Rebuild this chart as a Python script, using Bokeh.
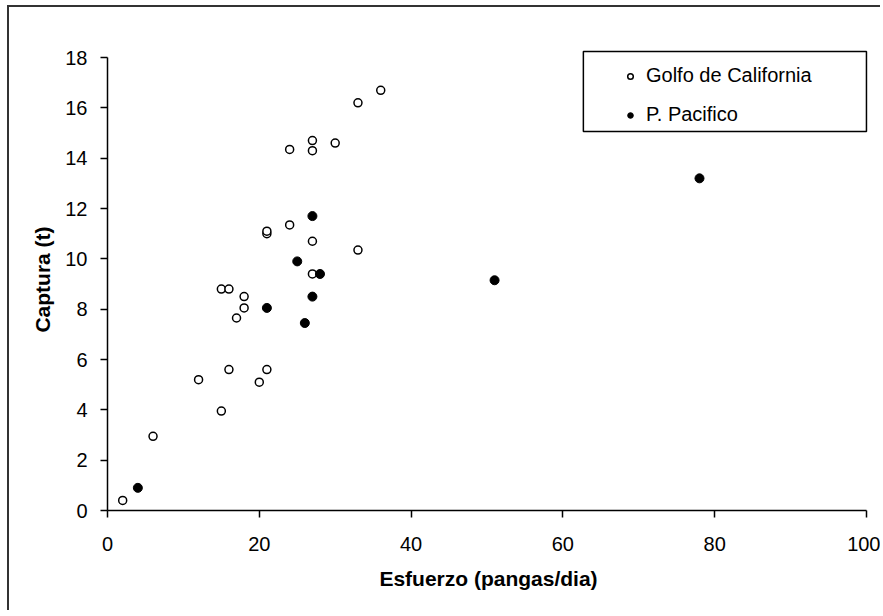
from bokeh.plotting import figure
from bokeh.models import Range1d, Legend, LegendItem, FixedTicker, BoxAnnotation
from bokeh.embed import file_html
from bokeh.resources import INLINE

# Golfo de California (open circles)
golfo_x = [36, 33, 27, 27, 24, 30, 24, 21, 21, 27, 33, 27, 15, 16, 18, 18, 17, 16, 21, 12, 20, 15, 6, 2]
golfo_y = [16.7, 16.2, 14.7, 14.3, 14.35, 14.6, 11.35, 11.0, 11.1, 10.7, 10.35, 9.4,
           8.8, 8.8, 8.5, 8.05, 7.65, 5.6, 5.6, 5.2, 5.1, 3.95, 2.95, 0.4]

# P. Pacifico (filled circles)
pacif_x = [27, 25, 28, 27, 21, 26, 4, 51, 78]
pacif_y = [11.7, 9.9, 9.4, 8.5, 8.05, 7.45, 0.9, 9.15, 13.2]

x_ticks = [0, 20, 40, 60, 80, 100]
y_ticks = [0, 2, 4, 6, 8, 10, 12, 14, 16, 18]

FONT = "Liberation Sans"

# ranges run a bit past the last tick so the legend frame is not clipped
p = figure(width=873, height=605, output_backend="svg", toolbar_location=None,
           x_range=Range1d(0, 100.4), y_range=Range1d(0, 18.36),
           min_border_left=98, min_border_right=13, min_border_top=41, min_border_bottom=102)
p.styles = {"margin-left": "7px", "margin-top": "5px",
            "border-left": "2px solid #333", "border-top": "2px solid #333"}
p.outline_line_color = None
p.grid.grid_line_color = None
p.background_fill_color = "white"
p.border_fill_color = "white"

p.xaxis.ticker = FixedTicker(ticks=x_ticks)
p.yaxis.ticker = FixedTicker(ticks=y_ticks)
p.xaxis.bounds = (0, 100)
p.yaxis.bounds = (0, 18)
p.xaxis.axis_label = "Esfuerzo (pangas/dia)"
p.yaxis.axis_label = "Captura (t)"
for ax in (p.xaxis, p.yaxis):
    ax.axis_line_color = "black"
    ax.axis_line_width = 1.5
    ax.major_tick_line_color = "black"
    ax.major_tick_line_width = 1.5
    ax.major_tick_in = 0
    ax.major_tick_out = 7
    ax.minor_tick_line_color = None
    ax.major_label_text_font = FONT
    ax.major_label_text_font_size = "20px"
    ax.major_label_text_color = "black"
    ax.axis_label_text_font = FONT
    ax.axis_label_text_font_size = "21px"
    ax.axis_label_text_font_style = "bold"
    ax.axis_label_text_color = "black"
p.xaxis.major_label_standoff = 19
p.yaxis.major_label_standoff = 13
p.xaxis.axis_label_standoff = 13
p.yaxis.axis_label_standoff = 8

r_golfo = p.scatter(golfo_x, golfo_y, marker="circle", size=8, fill_color="white",
                    line_color="black", line_width=1.5)
r_pacif = p.scatter(pacif_x, pacif_y, marker="circle", size=9, fill_color="black",
                    line_color="black", line_width=1)

# legend frame
box = BoxAnnotation(left=62.7, right=100.0, bottom=15.06, top=18.24,
                    fill_color="white", fill_alpha=1,
                    line_color="black", line_width=1.5, line_alpha=1)
p.add_layout(box)

legend = Legend(items=[LegendItem(label="Golfo de California", renderers=[r_golfo]),
                       LegendItem(label="P. Pacifico", renderers=[r_pacif])],
                location=(516, 383), orientation="vertical",
                padding=0, margin=0, spacing=14,
                glyph_width=14, glyph_height=14, label_height=25, label_standoff=9,
                label_text_font=FONT, label_text_font_size="20px", label_text_color="black",
                border_line_color=None, background_fill_alpha=0)
p.add_layout(legend, "center")

open("out.html", "w").write(file_html(p, INLINE))
